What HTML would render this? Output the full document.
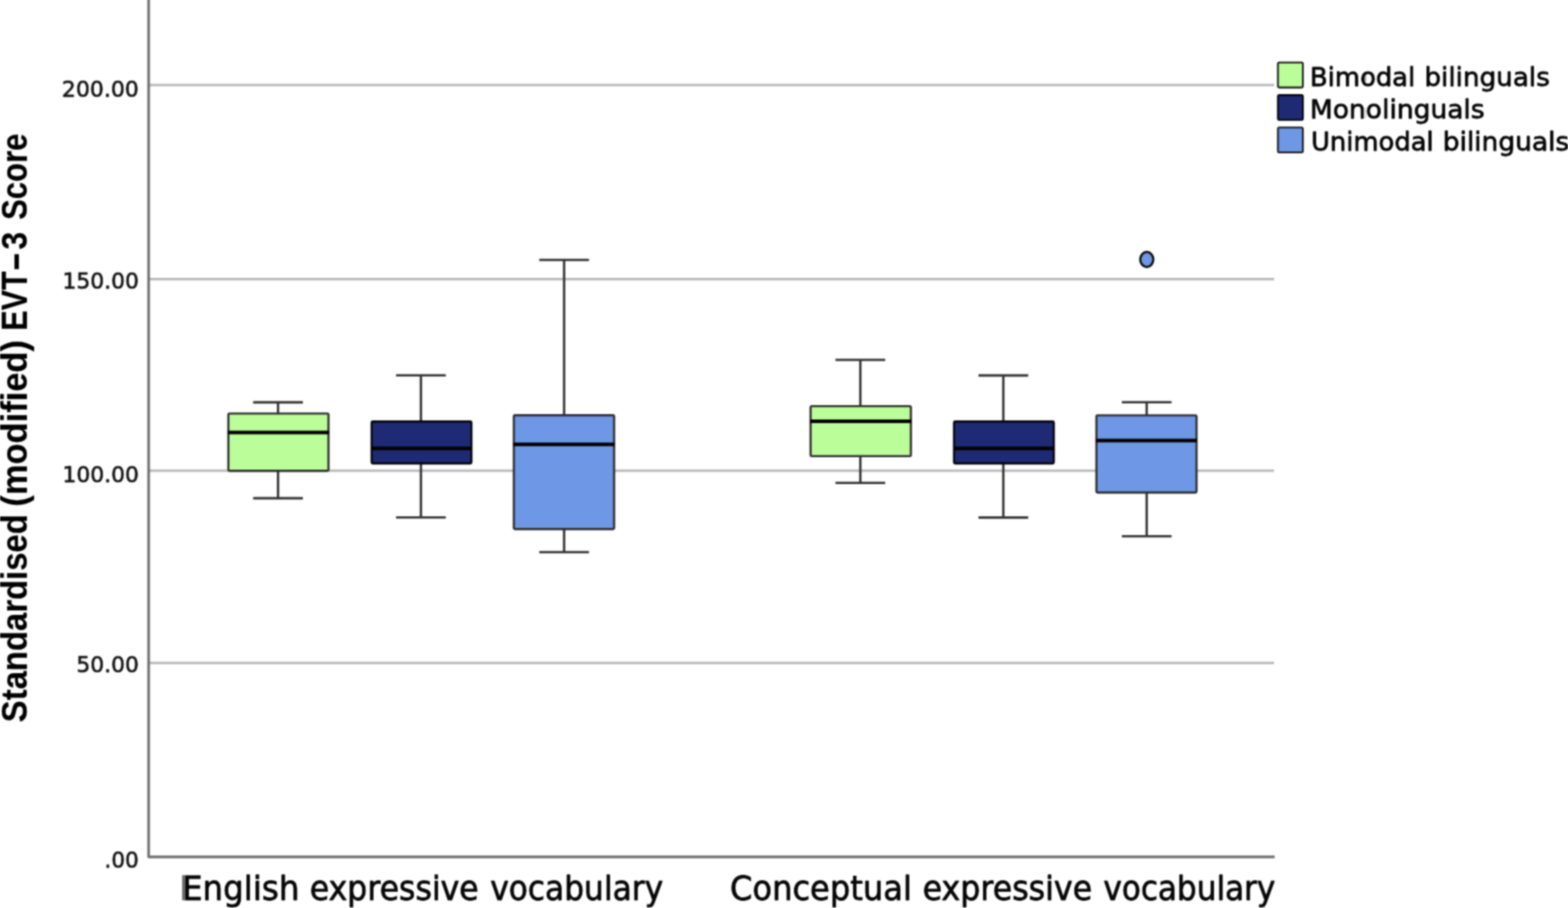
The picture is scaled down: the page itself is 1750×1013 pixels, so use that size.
<!DOCTYPE html>
<html lang="en">
<head>
<meta charset="utf-8">
<title>Standardised (modified) EVT-3 Score by group</title>
<style>
  html, body { margin: 0; padding: 0; background: #ffffff; overflow: hidden; }
  body { width: 1750px; height: 1013px; overflow: hidden; position: relative; }
  svg { position: absolute; left: 0; top: 0; display: block; overflow: hidden; }
  text { white-space: pre; font-family: "DejaVu Sans", "Liberation Sans", sans-serif; fill: #050505; stroke: #050505; stroke-width: 0.8px; stroke-linejoin: round; }
  .tick { fill: #141414; stroke: #141414; stroke-width: 0.65px; }
  .ytitle { font-weight: bold; font-family: "Liberation Sans", "DejaVu Sans", sans-serif; fill: #000000; stroke: #000000; stroke-width: 0.2px; }
  .leg { stroke-width: 0.8px; }
  .grid line { stroke: #b9b9b9; stroke-width: 2.7; }
  .axis { stroke: #6c6c6c; stroke-width: 2.9; fill: none; stroke-linejoin: round; }
  .wh { stroke: #303030; stroke-width: 2.6; fill: none; }
  .box { stroke: #2c2c2c; stroke-width: 2.4; stroke-linejoin: round; }
  .sw { stroke: #1c1c1c; stroke-width: 2.05; stroke-linejoin: round; }
  .out { stroke: #0c0c0c; stroke-width: 2.5; }
  .med { stroke: #000000; stroke-width: 4.0; }
  .g { fill: #bbfe99; }
  .n { fill: #1e2a73; stroke: #02030c; }
  .b { fill: #6e97e5; }
</style>
</head>
<body>
<svg width="1750" height="1013" viewBox="0 0 1750 1013" role="img" aria-label="Box plot of standardised (modified) EVT-3 score by group">
  <defs>
    <filter id="soft" filterUnits="userSpaceOnUse" x="-20" y="-20" width="1790" height="1053" color-interpolation-filters="sRGB">
      <feConvolveMatrix order="5" kernelMatrix="0.00087 0.00695 0.01388 0.00695 0.00087 0.00695 0.05540 0.11068 0.05540 0.00695 0.01388 0.11068 0.22111 0.11068 0.01388 0.00695 0.05540 0.11068 0.05540 0.00695 0.00087 0.00695 0.01388 0.00695 0.00087" divisor="1" edgeMode="duplicate" preserveAlpha="false"/>
    </filter>
  </defs>
  <g filter="url(#soft)">
  <rect x="-20" y="-20" width="1790" height="1053" fill="#ffffff"/>

  <!-- grid lines -->
  <g class="grid">
    <line x1="167" y1="94.95" x2="1422" y2="94.95"/>
    <line x1="167" y1="311.45" x2="1422" y2="311.45"/>
    <line x1="167" y1="525.15" x2="1422" y2="525.15"/>
    <line x1="167" y1="739.65" x2="1422" y2="739.65"/>
  </g>

  <!-- axes -->
  <polyline class="axis" points="165.9,-20 165.9,956.0 1422.6,956.0"/>

  <!-- faint leftover marks inside the legend labels -->
  <rect x="1522.4" y="155.2" width="3.0" height="13.2" fill="#8c8c8c"/>
  <rect x="1522.8" y="83.0" width="2.2" height="7.6" fill="#b4b4b4"/>
  <rect x="1523.4" y="120.0" width="1.6" height="12.0" fill="#dcdcdc"/>

  <!-- tick labels, category labels, legend labels -->
  <text class="tick" y="107.52" font-size="24.45"><tspan x="69.00" textLength="86.00" lengthAdjust="spacingAndGlyphs">200.00</tspan></text>
  <text class="tick" y="322.43" font-size="24.45"><tspan x="69.66" textLength="85.33" lengthAdjust="spacingAndGlyphs">150.00</tspan></text>
  <text class="tick" y="537.52" font-size="24.45"><tspan x="69.66" textLength="85.33" lengthAdjust="spacingAndGlyphs">100.00</tspan></text>
  <text class="tick" y="750.12" font-size="24.45"><tspan x="85.30" textLength="69.69" lengthAdjust="spacingAndGlyphs">50.00</tspan></text>
  <text class="tick" y="967.52" font-size="24.45"><tspan x="116.48" textLength="38.49" lengthAdjust="spacingAndGlyphs">.00</tspan></text>
  <text class="cat" y="1003.55" font-size="37.12"><tspan x="203.15" textLength="130.99" lengthAdjust="spacingAndGlyphs">English</tspan> <tspan x="345.76" textLength="188.50" lengthAdjust="spacingAndGlyphs">expressive</tspan> <tspan x="547.13" textLength="192.91" lengthAdjust="spacingAndGlyphs">vocabulary</tspan></text>
  <text class="cat" y="1003.55" font-size="37.12"><tspan x="814.73" textLength="202.90" lengthAdjust="spacingAndGlyphs">Conceptual</tspan> <tspan x="1029.76" textLength="189.12" lengthAdjust="spacingAndGlyphs">expressive</tspan> <tspan x="1231.43" textLength="192.00" lengthAdjust="spacingAndGlyphs">vocabulary</tspan></text>
  <text class="leg" y="95.50" font-size="28.49"><tspan x="1462.06" textLength="117.41" lengthAdjust="spacingAndGlyphs">Bimodal</tspan> <tspan x="1589.66" textLength="140.08" lengthAdjust="spacingAndGlyphs">bilinguals</tspan></text>
  <text class="leg" y="132.15" font-size="28.49"><tspan x="1461.99" textLength="194.97" lengthAdjust="spacingAndGlyphs">Monolinguals</tspan></text>
  <text class="leg" y="168.35" font-size="28.49"><tspan x="1463.15" textLength="136.92" lengthAdjust="spacingAndGlyphs">Unimodal</tspan> <tspan x="1610.25" textLength="141.01" lengthAdjust="spacingAndGlyphs">bilinguals</tspan></text>

  <!-- y axis title -->
  <text class="ytitle" transform="translate(30.25 805.20) rotate(-90)" y="0" font-size="40.43"><tspan x="-0.52" textLength="232.03" lengthAdjust="spacingAndGlyphs">Standardised</tspan> <tspan x="240.07" textLength="185.78" lengthAdjust="spacingAndGlyphs">(modified)</tspan> <tspan x="436.19" textLength="66.21" lengthAdjust="spacingAndGlyphs">EVT</tspan><tspan x="502.77" dy="-1.7" textLength="21.26" lengthAdjust="spacingAndGlyphs">-</tspan><tspan x="526.69" dy="1.7" textLength="19.80" lengthAdjust="spacingAndGlyphs">3</tspan> <tspan x="559.93" textLength="96.24" lengthAdjust="spacingAndGlyphs">Score</tspan></text>

  <!-- stray mark left of the first category label -->
  <rect x="203.3" y="976.4" width="3.6" height="28.0" fill="#666666"/>

  <!-- box plots -->
  <g>
    <line class="wh" x1="310.30" y1="448.90" x2="310.30" y2="461.40"/>
    <line class="wh" x1="310.30" y1="525.20" x2="310.30" y2="555.90"/>
    <line class="wh" x1="282.55" y1="448.90" x2="338.05" y2="448.90"/>
    <line class="wh" x1="282.55" y1="555.90" x2="338.05" y2="555.90"/>
    <rect class="box g" x="254.90" y="461.40" width="111.70" height="63.80" rx="1.2"/>
    <line class="med" x1="254.30" y1="482.60" x2="367.20" y2="482.60"/>
  </g>
  <g>
    <line class="wh" x1="469.80" y1="418.80" x2="469.80" y2="470.30"/>
    <line class="wh" x1="469.80" y1="517.00" x2="469.80" y2="577.30"/>
    <line class="wh" x1="442.05" y1="418.80" x2="497.55" y2="418.80"/>
    <line class="wh" x1="442.05" y1="577.30" x2="497.55" y2="577.30"/>
    <rect class="box n" x="414.80" y="470.30" width="111.30" height="46.70" rx="1.2"/>
    <line class="med" x1="414.20" y1="500.20" x2="526.70" y2="500.20"/>
  </g>
  <g>
    <line class="wh" x1="629.60" y1="290.00" x2="629.60" y2="463.20"/>
    <line class="wh" x1="629.60" y1="590.30" x2="629.60" y2="616.00"/>
    <line class="wh" x1="601.85" y1="290.00" x2="657.35" y2="290.00"/>
    <line class="wh" x1="601.85" y1="616.00" x2="657.35" y2="616.00"/>
    <rect class="box b" x="573.50" y="463.20" width="111.90" height="127.10" rx="1.2"/>
    <line class="med" x1="572.90" y1="495.70" x2="686.00" y2="495.70"/>
  </g>
  <g>
    <line class="wh" x1="960.20" y1="401.50" x2="960.20" y2="453.10"/>
    <line class="wh" x1="960.20" y1="508.90" x2="960.20" y2="538.70"/>
    <line class="wh" x1="932.45" y1="401.50" x2="987.95" y2="401.50"/>
    <line class="wh" x1="932.45" y1="538.70" x2="987.95" y2="538.70"/>
    <rect class="box g" x="904.70" y="453.10" width="111.90" height="55.80" rx="1.2"/>
    <line class="med" x1="904.10" y1="470.00" x2="1017.20" y2="470.00"/>
  </g>
  <g>
    <line class="wh" x1="1119.80" y1="418.90" x2="1119.80" y2="470.30"/>
    <line class="wh" x1="1119.80" y1="517.00" x2="1119.80" y2="577.40"/>
    <line class="wh" x1="1092.05" y1="418.90" x2="1147.55" y2="418.90"/>
    <line class="wh" x1="1092.05" y1="577.40" x2="1147.55" y2="577.40"/>
    <rect class="box n" x="1064.80" y="470.30" width="111.30" height="46.70" rx="1.2"/>
    <line class="med" x1="1064.20" y1="500.20" x2="1176.70" y2="500.20"/>
  </g>
  <g>
    <line class="wh" x1="1279.80" y1="448.70" x2="1279.80" y2="463.40"/>
    <line class="wh" x1="1279.80" y1="549.50" x2="1279.80" y2="598.20"/>
    <line class="wh" x1="1252.05" y1="448.70" x2="1307.55" y2="448.70"/>
    <line class="wh" x1="1252.05" y1="598.20" x2="1307.55" y2="598.20"/>
    <rect class="box b" x="1223.70" y="463.40" width="111.70" height="86.10" rx="1.2"/>
    <line class="med" x1="1223.10" y1="491.50" x2="1336.00" y2="491.50"/>
  </g>
  <ellipse class="out b" cx="1279.9" cy="289.5" rx="7.3" ry="8.4"/>

  <!-- legend swatches -->
  <rect class="sw g" x="1426.3" y="69.8" width="27.8" height="27.8" rx="1.5"/>
  <rect class="sw n" x="1426.3" y="106.1" width="27.8" height="27.6" rx="1.5"/>
  <rect class="sw b" x="1426.3" y="142.2" width="27.8" height="27.9" rx="1.5"/>
  </g>
</svg>
</body>
</html>
